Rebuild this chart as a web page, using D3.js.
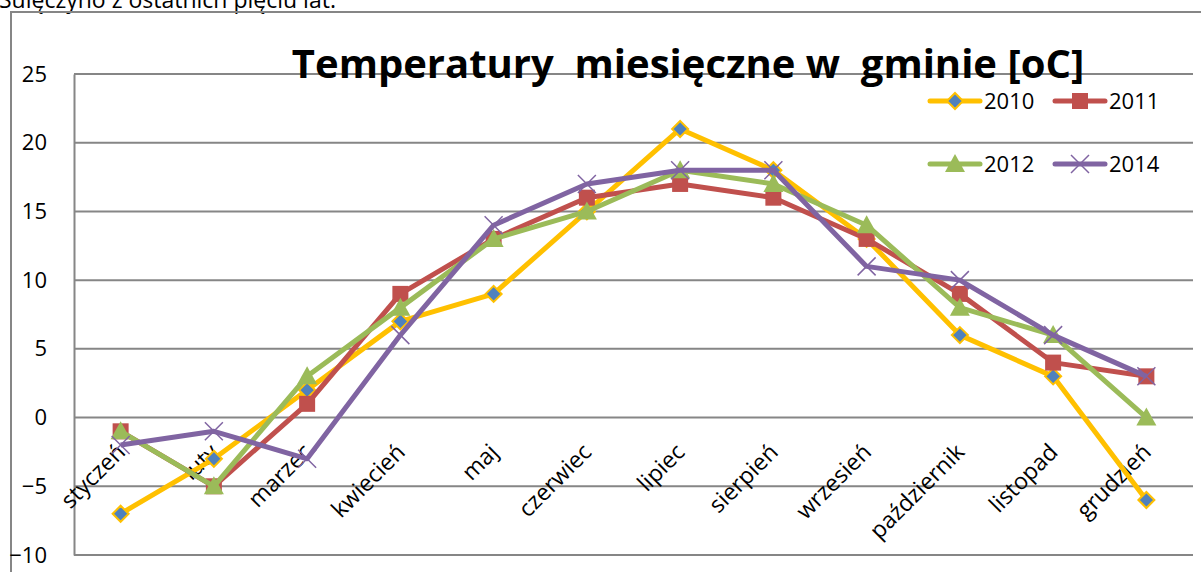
<!DOCTYPE html>
<html>
<head>
<meta charset="utf-8">
<script src="https://cdn.jsdelivr.net/npm/d3@7"></script>
<style>
  body { margin: 0; background: #fff; }
  svg { display: block; font-family: "Open Sans", "Noto Sans", sans-serif; }
</style>
</head>
<body>
<div id="chart"></div>
<script>
// data
var months = ["styczeń", "luty", "marzec", "kwiecień", "maj", "czerwiec", "lipiec",
              "sierpień", "wrzesień", "październik", "listopad", "grudzień"];
var t2010 = [-7, -3, 2, 7, 9, 15, 21, 18, 13, 6, 3, -6];
var t2011 = [-1, -5, 1, 9, 13, 16, 17, 16, 13, 9, 4, 3];
var t2012 = [-1, -5, 3, 8, 13, 15, 18, 17, 14, 8, 6, 0];
var t2014 = [-2, -1, -3, 6, 14, 17, 18, 18, 11, 10, 6, 3];
var yTicks = [-10, -5, 0, 5, 10, 15, 20, 25];

var series = [
  {name: "2010", values: t2010, color: "#FFC000", marker: "diamond"},
  {name: "2011", values: t2011, color: "#C0504D", marker: "square"},
  {name: "2012", values: t2012, color: "#9BBB59", marker: "triangle"},
  {name: "2014", values: t2014, color: "#8064A2", marker: "cross"}
];

var W = 1201, H = 572;
var margin = {top: 74, right: 8, bottom: 17, left: 74};
var width = W - margin.left - margin.right,
    height = H - margin.top - margin.bottom;

var svg = d3.select("#chart").append("svg")
  .attr("width", W)
  .attr("height", H);

// text of the page above the chart (cut off at the top)
svg.append("text")
  .attr("x", -1)
  .attr("y", 8)
  .style("font-size", "23px")
  .style("fill", "#000")
  .text("Sulęczyno z ostatnich pięciu lat.");

// chart frame
svg.append("path")
  .attr("d", "M11," + (H + 2) + "V12H" + (W + 2))
  .attr("fill", "none")
  .attr("stroke", "#868686")
  .attr("stroke-width", 2);

var g = svg.append("g")
  .attr("transform", "translate(" + margin.left + "," + margin.top + ")");

var x = d3.scaleBand()
  .domain(months)
  .range([0, width]);

var y = d3.scaleLinear()
  .domain([-10, 25])
  .range([height, 0]);

// gridlines
g.append("g")
  .selectAll("line")
  .data(yTicks)
  .enter().append("line")
    .attr("x1", 0)
    .attr("x2", width)
    .attr("y1", function(d) { return y(d); })
    .attr("y2", function(d) { return y(d); })
    .attr("stroke", "#868686")
    .attr("stroke-width", 2);

// y axis
var yAxis = g.append("g")
  .call(d3.axisLeft(y).tickValues(yTicks).tickSize(0).tickPadding(27));
yAxis.select(".domain")
  .attr("stroke", "#868686")
  .attr("stroke-width", 2);
yAxis.selectAll("text")
  .style("font-size", "22px")
  .style("font-family", "'Open Sans', sans-serif")
  .attr("fill", "#000");

// x labels sit at the zero line, rotated
g.append("g")
  .selectAll("text")
  .data(months)
  .enter().append("text")
    .attr("transform", function(d) {
      return "translate(" + (x(d) + x.bandwidth() / 2 + 6) + "," + (y(0) + 36) + ") rotate(-45)";
    })
    .attr("text-anchor", "end")
    .style("font-size", "23px")
    .style("fill", "#000")
    .text(function(d) { return d; });

// title
svg.append("text")
  .attr("x", 688)
  .attr("y", 78)
  .attr("text-anchor", "middle")
  .style("font-size", "40px")
  .style("font-weight", "bold")
  .style("white-space", "pre")
  .style("fill", "#000")
  .text("Temperatury  miesięczne w  gminie [oC]");

var cx = function(i) { return x(months[i]) + x.bandwidth() / 2; };

var line = d3.line()
  .x(function(d, i) { return cx(i); })
  .y(function(d) { return y(d); });

function drawMarker(sel, s, px, py) {
  if (s.marker == "diamond") {
    sel.append("path")
      .attr("d", "M" + px + "," + (py - 8) + "L" + (px + 8) + "," + py + "L" + px + "," + (py + 8) + "L" + (px - 8) + "," + py + "Z")
      .attr("fill", "#4F81BD")
      .attr("stroke", s.color)
      .attr("stroke-width", 2);
  } else if (s.marker == "square") {
    sel.append("rect")
      .attr("x", px - 8).attr("y", py - 8)
      .attr("width", 16).attr("height", 16)
      .attr("fill", s.color);
  } else if (s.marker == "triangle") {
    sel.append("path")
      .attr("d", "M" + px + "," + (py - 10) + "L" + (px + 10) + "," + (py + 8) + "L" + (px - 10) + "," + (py + 8) + "Z")
      .attr("fill", s.color);
  } else {
    sel.append("path")
      .attr("d", "M" + (px - 9) + "," + (py - 9) + "L" + (px + 9) + "," + (py + 9) + "M" + (px + 9) + "," + (py - 9) + "L" + (px - 9) + "," + (py + 9))
      .attr("stroke", s.color)
      .attr("stroke-width", 1.5);
  }
}

series.forEach(function(s) {
  var sg = g.append("g");
  sg.append("path")
    .datum(s.values)
    .attr("d", line)
    .attr("fill", "none")
    .attr("stroke", s.color)
    .attr("stroke-width", 5)
    .attr("stroke-linejoin", "round");
  s.values.forEach(function(v, i) {
    drawMarker(sg, s, cx(i), y(v));
  });
});

// legend, two rows
var legendPos = [[930, 101], [1055, 101], [930, 164], [1055, 164]];
series.forEach(function(s, i) {
  var lg = svg.append("g");
  var lx = legendPos[i][0], ly = legendPos[i][1];
  lg.append("line")
    .attr("x1", lx).attr("x2", lx + 50)
    .attr("y1", ly).attr("y2", ly)
    .attr("stroke", s.color)
    .attr("stroke-width", 5)
    .attr("stroke-linecap", "round");
  drawMarker(lg, s, lx + 25, ly);
  lg.append("text")
    .attr("x", lx + 54)
    .attr("y", ly + 8)
    .style("font-size", "22px")
    .style("fill", "#000")
    .text(s.name);
});
</script>
</body>
</html>
